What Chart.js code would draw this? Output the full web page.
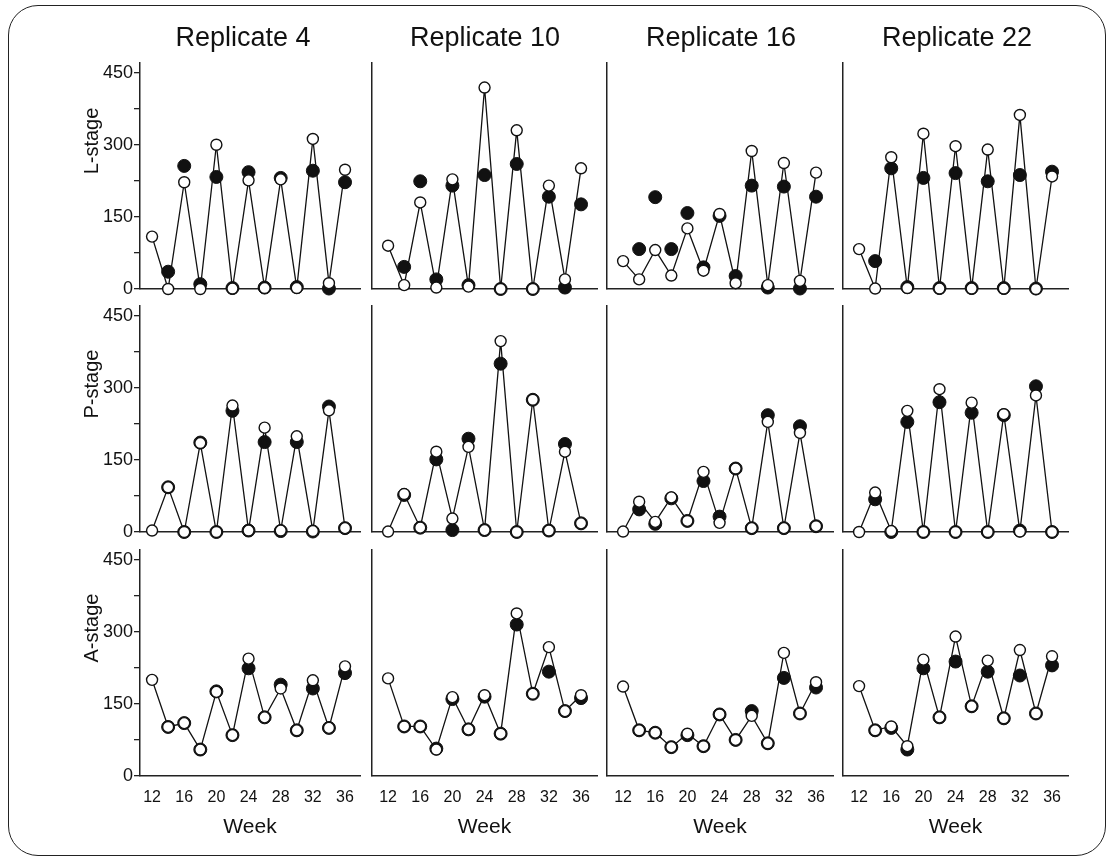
<!DOCTYPE html>
<html>
<head>
<meta charset="utf-8">
<script src="https://cdn.jsdelivr.net/npm/chart.js@4.4.0/dist/chart.umd.min.js"></script>
<style>
  body { margin: 0; background: #fff; width: 1111px; height: 860px; position: relative; overflow: hidden;
         font-family: "Liberation Sans", Arial, sans-serif; color: #111; }
  #frame { position: absolute; left: 8px; top: 5px; width: 1096px; height: 849px;
           border: 1.8px solid #222; border-radius: 30px; }
  canvas { position: absolute; }
  .title { position: absolute; width: 240px; height: 32px; line-height: 32px; text-align: center; font-size: 27px; }
  .rowlab { position: absolute; width: 120px; height: 24px; line-height: 24px; text-align: center;
            font-size: 20px; transform: rotate(-90deg); }
  .week { position: absolute; width: 120px; height: 24px; line-height: 24px; text-align: center; font-size: 21px; }
</style>
</head>
<body>
<div id="frame"></div>
<script>
// weeks sampled, tick labels
const weeks = [12, 14, 16, 18, 20, 22, 24, 26, 28, 30, 32, 34, 36];
const weekTicks = [12, 16, 20, 24, 28, 32, 36];
const yTicks = [0, 75, 150, 225, 300, 375, 450];
const yLabels = [0, 150, 300, 450];
const replicates = ["Replicate 4", "Replicate 10", "Replicate 16", "Replicate 22"];
const stages = ["L-stage", "P-stage", "A-stage"];

// L-stage (open = line, filled = dots)
const rep4L_open    = [109, 0, 222, 0, 300, 1, 226, 2, 228, 2, 312, 12, 248];
const rep4L_filled  = [null, 36, 256, 10, 233, 2, 243, 3, 231, 4, 246, 1, 222];
const rep10L_open   = [90, 8, 180, 3, 228, 5, 419, 0, 330, 0, 215, 20, 251];
const rep10L_filled = [null, 46, 224, 20, 215, 8, 237, 0, 260, 0, 192, 3, 176];
const rep16L_open   = [58, 20, 81, 28, 126, 38, 156, 12, 287, 8, 262, 17, 242];
const rep16L_filled = [null, 83, 191, 83, 158, 45, 152, 27, 215, 3, 213, 1, 192];
const rep22L_open   = [83, 1, 274, 2, 323, 1, 297, 1, 290, 1, 362, 0, 234];
const rep22L_filled = [null, 58, 251, 4, 231, 2, 241, 2, 224, 2, 237, 1, 244];

// P-stage
const rep4P_open    = [3, 93, 0, 185, 0, 263, 3, 217, 3, 199, 2, 253, 8];
const rep4P_filled  = [null, 93, 0, 186, 0, 252, 3, 187, 2, 187, 1, 261, 8];
const rep10P_open   = [1, 79, 9, 167, 28, 177, 4, 397, 0, 275, 3, 167, 18];
const rep10P_filled = [null, 77, 9, 151, 4, 194, 4, 350, 0, 275, 3, 183, 18];
const rep16P_open   = [1, 63, 21, 72, 23, 125, 19, 132, 8, 229, 8, 206, 12];
const rep16P_filled = [null, 47, 17, 70, 23, 106, 32, 132, 8, 243, 8, 220, 12];
const rep22P_open   = [0, 82, 2, 252, 0, 297, 0, 269, 0, 245, 1, 284, 0];
const rep22P_filled = [null, 68, 0, 229, 0, 270, 0, 248, 0, 243, 3, 303, 0];

// A-stage
const rep4A_open    = [200, 102, 110, 55, 175, 85, 244, 122, 182, 95, 199, 100, 228];
const rep4A_filled  = [null, 102, 110, 55, 176, 85, 224, 122, 190, 95, 182, 100, 214];
const rep10A_open   = [203, 103, 103, 55, 164, 97, 168, 88, 338, 171, 268, 135, 168];
const rep10A_filled = [null, 103, 103, 57, 160, 97, 165, 88, 315, 171, 217, 135, 162];
const rep16A_open   = [186, 95, 90, 60, 88, 62, 128, 75, 125, 68, 256, 130, 195];
const rep16A_filled = [null, 95, 90, 60, 85, 62, 128, 75, 135, 68, 204, 130, 184];
const rep22A_open   = [187, 95, 103, 62, 242, 122, 290, 145, 240, 120, 262, 130, 249];
const rep22A_filled = [null, 95, 100, 55, 224, 122, 238, 145, 217, 120, 209, 130, 230];

const panels = [
  [[rep4L_open, rep4L_filled], [rep10L_open, rep10L_filled], [rep16L_open, rep16L_filled], [rep22L_open, rep22L_filled]],
  [[rep4P_open, rep4P_filled], [rep10P_open, rep10P_filled], [rep16P_open, rep16P_filled], [rep22P_open, rep22P_filled]],
  [[rep4A_open, rep4A_filled], [rep10A_open, rep10A_filled], [rep16A_open, rep16A_filled], [rep22A_open, rep22A_filled]]
];

// layout of the plot areas (page pixels)
const cols = [{ left: 140, width: 220, min: 10.5, titleX: 243 }, { left: 372, width: 225, min: 10, titleX: 485 },
              { left: 607, width: 226, min: 10, titleX: 721 }, { left: 843, width: 225, min: 10, titleX: 957 }];
const rowZero = [289, 532, 776];
const pxPerWeek = 8.04;
const yMax = 470;
const plotH = 226;
const FONT = "'Liberation Sans', Arial, sans-serif";

function toPoints(vals) {
  return weeks.map((w, i) => ({ x: w, y: vals[i] }));
}

function addDiv(cls, text, left, top) {
  const d = document.createElement("div");
  d.className = cls;
  d.textContent = text;
  d.style.left = left + "px";
  d.style.top = top + "px";
  document.body.appendChild(d);
}

function makePanel(r, c) {
  const col = cols[c];
  const top = rowZero[r] - plotH;
  const first = c === 0, bottom = r === 2;
  const padL = first ? 62 : 10, padR = 10, padT = 12, padB = bottom ? 40 : 14;
  const yW = first ? 52 : 0, xH = bottom ? 30 : 0;

  const cv = document.createElement("canvas");
  const w = col.width + padL + padR, h = plotH + padT + padB;
  cv.width = w; cv.height = h;
  cv.style.left = (col.left - padL) + "px";
  cv.style.top = (top - padT) + "px";
  document.body.appendChild(cv);

  const [openVals, filledVals] = panels[r][c];

  new Chart(cv, {
    type: "line",
    data: {
      datasets: [
        {
          data: toPoints(openVals),
          borderColor: "#111", borderWidth: 1.3, tension: 0,
          pointRadius: 5.5, pointBackgroundColor: "#fff", pointBorderColor: "#111", pointBorderWidth: 1.4,
          clip: false
        },
        {
          data: toPoints(filledVals),
          showLine: false,
          pointRadius: 6.5, pointBackgroundColor: "#111", pointBorderColor: "#111", pointBorderWidth: 1,
          clip: false
        }
      ]
    },
    options: {
      responsive: false, animation: false, devicePixelRatio: 1, events: [],
      layout: { padding: { left: padL - yW, right: padR, top: padT, bottom: padB - xH } },
      plugins: { legend: { display: false }, tooltip: { enabled: false } },
      scales: {
        x: {
          type: "linear", min: col.min, max: col.min + col.width / pxPerWeek,
          afterBuildTicks: s => { s.ticks = weekTicks.map(v => ({ value: v })); },
          afterFit: s => { s.height = xH; },
          border: { display: true, color: "#222", width: 1.5 },
          grid: { display: false, drawTicks: false },
          ticks: { display: bottom, padding: 12, color: "#111", font: { family: FONT, size: 16 }, maxRotation: 0, autoSkip: false }
        },
        y: {
          min: 0, max: yMax,
          afterBuildTicks: s => { s.ticks = yTicks.map(v => ({ value: v })); },
          afterFit: s => { s.width = yW; },
          border: { display: true, color: "#222", width: 1.5 },
          grid: { display: first, drawOnChartArea: false, drawTicks: first, tickLength: 6, color: "#222", lineWidth: 1.3 },
          ticks: {
            display: first, padding: 1, color: "#111", font: { family: FONT, size: 18 }, autoSkip: false,
            callback: v => yLabels.includes(v) ? String(v) : ""
          }
        }
      }
    }
  });
}

for (let r = 0; r < 3; r++) for (let c = 0; c < 4; c++) makePanel(r, c);

// column titles, row labels, x titles
cols.forEach((col, c) => {
  addDiv("title", replicates[c], col.titleX - 120, 21);
  addDiv("week", "Week", col.left + col.width / 2 - 60, 814);
});
stages.forEach((s, r) => {
  const cy = rowZero[r] - plotH / 2 - 35;
  addDiv("rowlab", s, 91 - 60, cy - 12);
});
</script>
</body>
</html>
